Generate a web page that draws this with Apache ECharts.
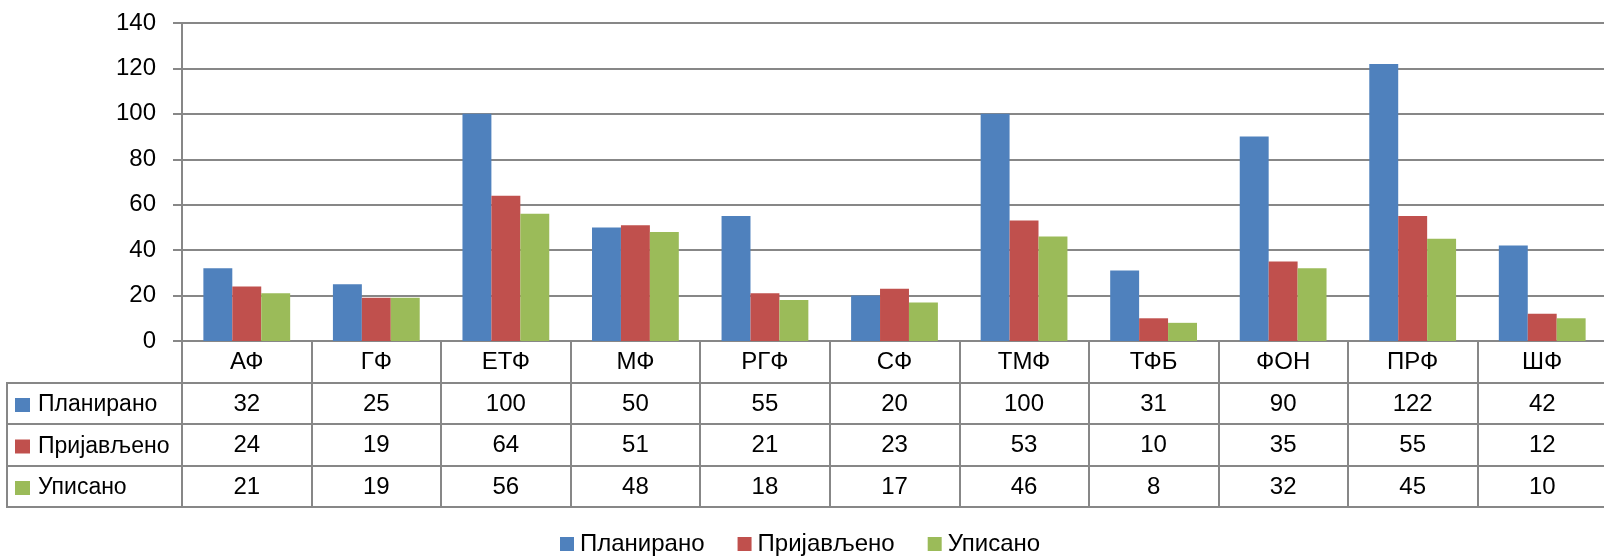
<!DOCTYPE html>
<html>
<head>
<meta charset="utf-8">
<script src="https://cdn.jsdelivr.net/npm/echarts@6/dist/echarts.min.js"></script>
<style>
  html, body { margin: 0; padding: 0; background: #ffffff; }
  #chart { width: 1604px; height: 558px; }
</style>
</head>
<body>
<div id="chart"></div>
<script>
// Faculties (categories)
const categories = ['АФ', 'ГФ', 'ЕТФ', 'МФ', 'РГФ', 'СФ', 'ТМФ', 'ТФБ', 'ФОН', 'ПРФ', 'ШФ'];
// Series names
const seriesNames = ['Планирано', 'Пријављено', 'Уписано'];
// Series values
const planned = [32, 25, 100, 50, 55, 20, 100, 31, 90, 122, 42];
const applied = [24, 19, 64, 51, 21, 23, 53, 10, 35, 55, 12];
const enrolled = [21, 19, 56, 48, 18, 17, 46, 8, 32, 45, 10];
// Value axis ticks
const yMin = 0, yMax = 140, yStep = 20;

const seriesValues = [planned, applied, enrolled];
const colors = ['#4F81BD', '#C0504D', '#9BBB59'];
const lineColor = '#878787';
const font = 'Liberation Sans, Arial, sans-serif';
const fontSize = 24;
const rowLabelFontSize = 23;
const legendFontSize = 24;

const chart = echarts.init(document.getElementById('chart'), null, { renderer: 'canvas' });

const gridLeft = 182, gridTop = 23, gridBottom = 217;
const rowOffsets = [42, 83, 125];   // data-table rows below the plot
const tableBottom = 166;

function tableAxis(offset, tickLen, values) {
  return {
    type: 'category',
    gridIndex: 0,
    position: 'bottom',
    offset: offset,
    data: categories,
    boundaryGap: true,
    axisLine: { show: true, lineStyle: { color: lineColor, width: 2 } },
    axisTick: { show: tickLen > 0, length: tickLen, interval: 0, lineStyle: { color: lineColor, width: 2 } },
    axisLabel: {
      show: !!values,
      interval: 0,
      margin: 21,
      verticalAlign: 'middle',
      color: '#000',
      fontFamily: font,
      fontSize: fontSize,
      formatter: values ? (v, i) => String(values[i]) : undefined
    },
    splitLine: { show: false }
  };
}

const xAxes = [
  {
    type: 'category',
    gridIndex: 0,
    position: 'bottom',
    data: categories,
    boundaryGap: true,
    axisLine: { show: true, lineStyle: { color: lineColor, width: 2 } },
    axisTick: { show: true, length: 42, interval: 0, lineStyle: { color: lineColor, width: 2 } },
    axisLabel: { interval: 0, margin: 21, verticalAlign: 'middle', color: '#000', fontFamily: font, fontSize: fontSize },
    splitLine: { show: false }
  },
  tableAxis(rowOffsets[0], 41, planned),
  tableAxis(rowOffsets[1], 42, applied),
  tableAxis(rowOffsets[2], 41, enrolled),
  tableAxis(tableBottom, 0, null)
];

const rowCenters = [405, 446.5, 488];

const option = {
  animation: false,
  backgroundColor: '#ffffff',
  textStyle: { fontFamily: font },
  grid: {
    left: gridLeft, right: -3, top: gridTop, bottom: gridBottom,
    containLabel: false, outerBoundsMode: 'none'
  },
  legend: [
    {
      data: seriesNames,
      left: 560, top: 532,
      padding: 0,
      orient: 'horizontal',
      itemWidth: 14, itemHeight: 14, itemGap: 33,
      icon: 'rect',
      selectedMode: false,
      textStyle: { color: '#000', fontFamily: font, fontSize: legendFontSize, lineHeight: 24, padding: [0, 0, 0, 1] }
    }
  ].concat(seriesNames.map((name, i) => ({
    data: [name],
    left: 15, top: rowCenters[i] - 12,
    padding: 0,
    itemWidth: 15, itemHeight: 14,
    icon: 'rect',
    selectedMode: false,
    textStyle: { color: '#000', fontFamily: font, fontSize: rowLabelFontSize, lineHeight: 24, padding: [0, 0, 0, 3] }
  }))),
  xAxis: xAxes,
  yAxis: {
    type: 'value',
    min: yMin, max: yMax, interval: yStep,
    axisLine: { show: true, lineStyle: { color: lineColor, width: 2 } },
    axisTick: { show: true, length: 9, lineStyle: { color: lineColor, width: 2 } },
    axisLabel: { margin: 26, color: '#000', fontFamily: font, fontSize: fontSize },
    splitLine: { show: true, lineStyle: { color: lineColor, width: 2 } }
  },
  series: seriesNames.map((name, i) => ({
    name: name,
    type: 'bar',
    xAxisIndex: 0,
    data: seriesValues[i],
    barGap: '0%',
    barCategoryGap: '33%',
    itemStyle: { color: colors[i] },
    emphasis: { disabled: true }
  })),
  graphic: [
    // border of the data-table legend column
    {
      type: 'rect', silent: true,
      shape: { x: 7, y: 383, width: gridLeft - 7, height: 124 },
      style: { fill: null, stroke: lineColor, lineWidth: 2 }
    },
    { type: 'line', silent: true, shape: { x1: 7, y1: 424, x2: gridLeft, y2: 424 }, style: { stroke: lineColor, lineWidth: 2 } },
    { type: 'line', silent: true, shape: { x1: 7, y1: 466, x2: gridLeft, y2: 466 }, style: { stroke: lineColor, lineWidth: 2 } }
  ]
};

chart.setOption(option);
</script>
</body>
</html>
